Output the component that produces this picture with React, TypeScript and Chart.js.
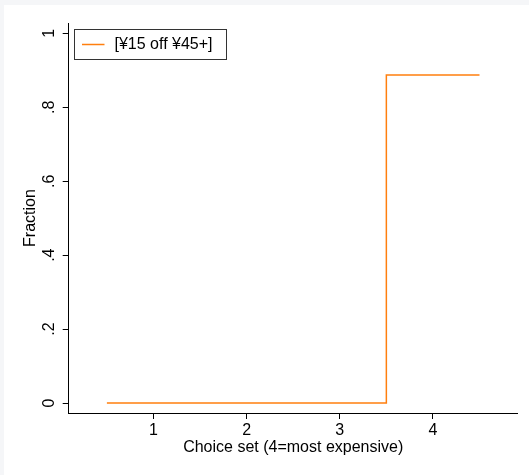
import React, { useEffect, useRef } from 'react';
import { Chart, registerables } from 'chart.js';

Chart.register(...registerables);

const categories = [1, 2, 3, 4];
const fractions = [0, 0, 0, 0.887];
const seriesLabel = '[¥15 off ¥45+]';
const xTickValues = [1, 2, 3, 4];
const yTickValues = [0, 0.2, 0.4, 0.6, 0.8, 1];
const yTickLabels = ['0', '.2', '.4', '.6', '.8', '1'];
const xTitle = 'Choice set (4=most expensive)';
const yTitle = 'Fraction';

const FONT = "'Liberation Sans', Arial, Helvetica, sans-serif";
const LINE_COLOR = '#ff7f0e';

const legendPlugin = {
  id: 'insideLegend',
  afterDraw(chart: any) {
    const { ctx, chartArea } = chart;
    const ds = chart.data.datasets[0];
    ctx.save();
    ctx.font = `16px ${FONT}`;
    const tw = ctx.measureText(ds.label).width;
    const bx = Math.round(chartArea.left + 5) + 0.5;
    const by = Math.round(chartArea.top + 6) + 0.5;
    const bw = Math.round(7.7 + 22.6 + 10 + tw + 13.5);
    const bh = 30;
    ctx.fillStyle = '#ffffff';
    ctx.fillRect(bx, by, bw, bh);
    ctx.strokeStyle = '#333333';
    ctx.lineWidth = 1;
    ctx.strokeRect(bx, by, bw, bh);
    const ly = by + bh / 2;
    ctx.strokeStyle = ds.borderColor;
    ctx.lineWidth = 1.5;
    ctx.beginPath();
    ctx.moveTo(bx + 7.5, ly);
    ctx.lineTo(bx + 30, ly);
    ctx.stroke();
    ctx.fillStyle = '#000000';
    ctx.textBaseline = 'middle';
    ctx.textAlign = 'left';
    ctx.fillText(ds.label, bx + 40, ly + 0.5);
    ctx.restore();
  },
};

export default function App() {
  const canvasRef = useRef<HTMLCanvasElement | null>(null);

  useEffect(() => {
    const canvas = canvasRef.current;
    if (!canvas) return;
    const stepPoints = categories.flatMap((c, i) => [
      { x: c - 0.5, y: fractions[i] },
      { x: c + 0.5, y: fractions[i] },
    ]);
    const chart = new Chart(canvas, {
      type: 'line',
      data: {
        datasets: [
          {
            label: seriesLabel,
            data: stepPoints,
            borderColor: LINE_COLOR,
            borderWidth: 1.5,
            pointRadius: 0,
            tension: 0,
            fill: false,
          },
        ],
      },
      options: {
        responsive: false,
        animation: false,
        devicePixelRatio: 1,
        layout: { padding: { top: 18, right: 11.3, left: 0, bottom: 0 } },
        plugins: {
          legend: { display: false },
          tooltip: { enabled: false },
        },
        scales: {
          x: {
            type: 'linear',
            min: 0.09,
            max: 4.91,
            afterBuildTicks: (scale: any) => {
              scale.ticks = xTickValues.map((v) => ({ value: v }));
            },
            afterFit: (scale: any) => {
              scale.height = 62;
            },
            grid: {
              display: true,
              drawOnChartArea: false,
              drawTicks: true,
              tickLength: 6,
              color: '#000000',
            },
            border: { display: true, color: '#000000', width: 1 },
            ticks: {
              color: '#000000',
              font: { family: FONT, size: 16 },
              padding: 2,
              maxRotation: 0,
              minRotation: 0,
              callback: (v: any) => String(v),
            },
            title: {
              display: true,
              text: xTitle,
              color: '#000000',
              font: { family: FONT, size: 16 },
              padding: { top: 0, bottom: 18 },
            },
          },
          y: {
            type: 'linear',
            min: -0.027,
            max: 1.028,
            afterBuildTicks: (scale: any) => {
              scale.ticks = yTickValues.map((v) => ({ value: v }));
            },
            afterFit: (scale: any) => {
              scale.width = 64.7;
            },
            grid: {
              display: true,
              drawOnChartArea: false,
              drawTicks: true,
              tickLength: 6,
              color: '#000000',
            },
            border: { display: true, color: '#000000', width: 1 },
            ticks: {
              color: '#000000',
              font: { family: FONT, size: 16 },
              padding: 6,
              minRotation: 90,
              maxRotation: 90,
              crossAlign: 'center',
              callback: (v: any) => {
                const idx = yTickValues.indexOf(v);
                return idx >= 0 ? yTickLabels[idx] : '';
              },
            },
            title: {
              display: true,
              text: yTitle,
              color: '#000000',
              font: { family: FONT, size: 16 },
              padding: { top: 17, bottom: 0 },
            },
          },
        },
      },
      plugins: [legendPlugin],
    } as any);
    return () => chart.destroy();
  }, []);

  return (
    <div style={{ width: 529, height: 475, background: '#f5f6f8', position: 'relative', overflow: 'hidden' }}>
      <style>{`body{margin:0}`}</style>
      <div style={{ position: 'absolute', left: 4, top: 5, width: 525, height: 470, background: '#ffffff' }}>
        <canvas ref={canvasRef} width={525} height={470} style={{ display: 'block', width: 525, height: 470 }} />
      </div>
    </div>
  );
}
